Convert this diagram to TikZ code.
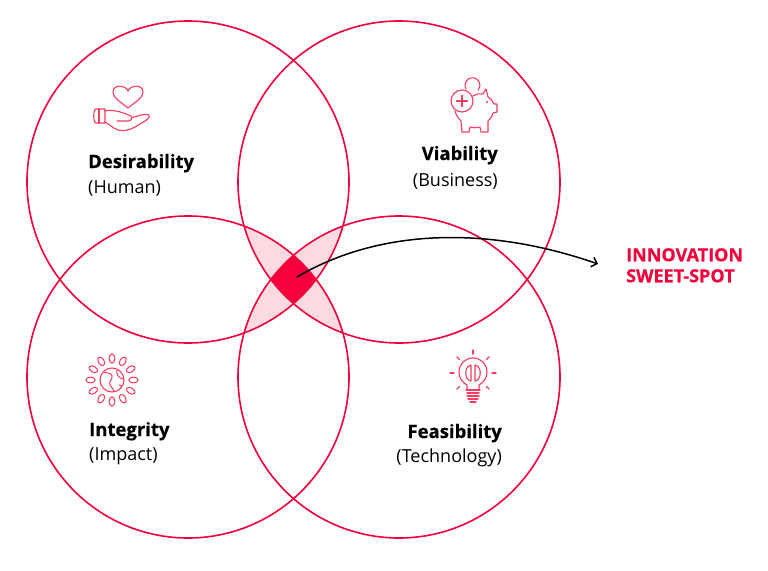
\documentclass[tikz,border=0pt]{standalone}
\usepackage{fontspec}
\setmainfont{Open Sans}
\newfontfamily\heavyfont{Open Sans}[BoldFeatures={FakeBold=0.4}]
\usetikzlibrary{arrows.meta,calc}
\definecolor{vred}{RGB}{242,0,60}
\definecolor{vpink}{RGB}{252,218,226}
\definecolor{vdark}{RGB}{245,0,60}
\definecolor{iconred}{RGB}{245,60,95}
\begin{document}
\begin{tikzpicture}[x=1pt,y=-1pt,
  ring/.style={draw=vred,line width=1.6pt},
  icon/.style={draw=iconred,line width=1.1pt,line cap=round,line join=round},
  title/.style={font=\fontsize{18.5}{20}\heavyfont\bfseries,inner sep=0pt},
  sub/.style={font=\fontsize{18}{20}\selectfont,inner sep=0pt},
  callout/.style={font=\fontsize{18}{20}\heavyfont\bfseries,text=vred,inner sep=0pt,align=left}]
\useasboundingbox (0,0) rectangle (768,570);
\fill[white] (0,0) rectangle (768,570);
\coordinate (TL) at (188,182);
\coordinate (TR) at (399,182);
\coordinate (BL) at (188,377);
\coordinate (BR) at (399,377);
\def\R{161pt}
% triple intersections
\begin{scope}\clip (TL) circle[radius=\R]; \clip (TR) circle[radius=\R]; \fill[vpink] (BL) circle[radius=\R]; \end{scope}
\begin{scope}\clip (TL) circle[radius=\R]; \clip (TR) circle[radius=\R]; \fill[vpink] (BR) circle[radius=\R]; \end{scope}
\begin{scope}\clip (TL) circle[radius=\R]; \clip (BL) circle[radius=\R]; \fill[vpink] (BR) circle[radius=\R]; \end{scope}
\begin{scope}\clip (TR) circle[radius=\R]; \clip (BL) circle[radius=\R]; \fill[vpink] (BR) circle[radius=\R]; \end{scope}
% quadruple
\begin{scope}\clip (TL) circle[radius=\R]; \clip (TR) circle[radius=\R]; \clip (BL) circle[radius=\R]; \fill[vdark] (BR) circle[radius=\R]; \end{scope}
% rings
\draw[ring] (TL) circle[radius=\R];
\draw[ring] (TR) circle[radius=\R];
\draw[ring] (BL) circle[radius=\R];
\draw[ring] (BR) circle[radius=\R];

% labels
\node[title,anchor=base west] (des) at (88,168) {Desirability};
\node[sub,anchor=base west] (hum) at (88,193) {(Human)};
\node[title,anchor=base east] (via) at (498,160) {Viability};
\node[sub,anchor=base east] (bus) at (498,186) {(Business)};
\node[title,anchor=base west] (int) at (89,436) {Integrity};
\node[sub,anchor=base west] (imp) at (89,460) {(Impact)};
\node[title,anchor=base east] (fea) at (502,438) {Feasibility};
\node[sub,anchor=base east] (tec) at (502,462) {(Technology)};
\node[callout,anchor=north west] (sweet) at (626,248) {INNOVATION\\[1pt]SWEET-SPOT};

% arrow
\coordinate (mid) at (297,277);
\coordinate (tip) at (598,264);
\draw[line width=1.5pt,-{Straight Barb[length=5pt,width=10pt]}] (mid) .. controls (380,228) and (489,226) .. (tip);

% heart + hand icon
\draw[icon] (128,91) .. controls (126,85) and (113,84) .. (113,92) .. controls (113,98) and (122,103) .. (128,108) .. controls (134,103) and (143,98) .. (143,92) .. controls (143,84) and (130,85) .. (128,91) -- cycle;
\draw[icon] (105,109) -- (96,109) .. controls (93,109) and (93,123) .. (96,123) -- (105,123) -- cycle;
\draw[icon] (99,109) -- (99,123);
\draw[icon] (105,111) .. controls (114,109) and (124,113) .. (131,116) .. controls (133,118) and (131,121) .. (128,121) -- (117,121);
\draw[icon] (131,118) .. controls (138,116) and (145,113) .. (149,115) .. controls (151,117) and (146,121) .. (140,124) .. controls (132,129) and (126,132) .. (118,130) .. controls (112,128) and (108,123) .. (105,122);

% piggy bank icon
\draw[icon] (466,89) arc[start angle=210,end angle=-40,radius=7.5pt];
\draw[icon] (462,101) circle[radius=11pt];
\draw[icon] (462,95.5) -- (462,106.5) (456.5,101) -- (467.5,101);
\draw[icon] (473,96) .. controls (477,94) and (480,93) .. (483,94) -- (486,89) -- (488,97) .. controls (491,99) and (493,101) .. (494,104) -- (497,104) -- (497,112) -- (493,113) .. controls (492,117) and (490,119) .. (488,121) -- (488,132) -- (481,132) -- (480,127) .. controls (476,128) and (473,128) .. (470,127) -- (469,132) -- (462,132) -- (461,121) .. controls (458,118) and (456,115) .. (455,111);
\fill[iconred] (487,102) circle[radius=1.2pt];

% sun / globe icon
\coordinate (g) at (112,380);
\draw[icon] (g) circle[radius=12pt];
\foreach \a in {0,30,...,330}{
  \draw[icon,line width=1pt] ($(g)+(\a:21.5pt)$) ellipse[x radius=4.6pt,y radius=2.9pt,rotate=\a];
}
\draw[icon,line width=1pt] (104,372) .. controls (108,374) and (111,372) .. (112,376) .. controls (113,380) and (108,381) .. (110,385) .. controls (111,388) and (114,389) .. (114,391);
\draw[icon,line width=1pt] (117,370) .. controls (116,375) and (119,378) .. (123,379);
\draw[icon,line width=1pt] (119,385) .. controls (121,384) and (122,386) .. (121,388);

% lightbulb icon
\draw[icon] (467,390) -- (467,385) .. controls (462,382) and (459,378) .. (459,372) .. controls (459,364) and (465,358) .. (473,358) .. controls (481,358) and (487,364) .. (487,372) .. controls (487,378) and (484,382) .. (479,385) -- (479,390);
\draw[icon] (466,390) -- (480,390) (467,393) -- (479,393) (467,396) -- (479,396) (468,399) -- (478,399) (470,402) -- (476,402);
\draw[icon] (471,365) .. controls (464,366) and (464,380) .. (471,381) -- cycle;
\draw[icon] (475,365) .. controls (482,366) and (482,380) .. (475,381) -- cycle;
\foreach \a in {90,45,135,0,180,-45,-135}{
  \draw[icon] ($(473,373)+(\a:19pt)$) -- ($(473,373)+(\a:23pt)$);
}
\end{tikzpicture}
\end{document}
